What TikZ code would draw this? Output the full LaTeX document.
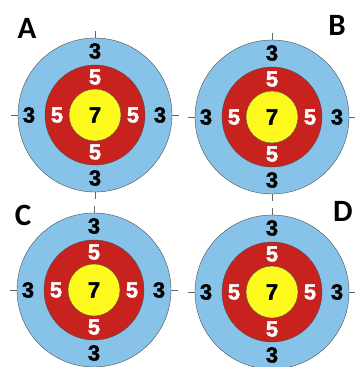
\documentclass[tikz,border=0pt]{standalone}
\usepackage{fontspec}
\setmainfont{Liberation Sans}
\newfontfamily\labelfont{Carlito}
\newfontfamily\scorefont[FakeBold=1.8]{Liberation Sans Bold}
\definecolor{ringblue}{RGB}{135,195,232}
\definecolor{ringred}{RGB}{200,34,30}
\definecolor{ringyellow}{RGB}{255,250,30}
\tikzset{
  outerring/.style={
    draw=black!70,
    fill=ringblue,
    thin
    },
  midring/.style={
    draw=black!70,
    fill=ringred,
    thin
    },
  innerring/.style={
    draw=black!70,
    fill=ringyellow,
    thin
    },
  tick/.style={draw=black!60, thin},
  score/.style={font=\scorefont\fontsize{22}{22}\selectfont, inner sep=0pt},
  letter/.style={font=\labelfont\fontsize{31}{31}\selectfont\bfseries, inner sep=0pt},
}

\begin{document}
\begin{tikzpicture}[
            x = 1pt, y = -1pt % image coordinates
        ]
        \useasboundingbox (0,0) rectangle (354,367);

        % four targets: centre x, centre y, name
        \foreach \cx/\cy/\tn in {95/115/A, 272/117/B, 94/290/C, 272/292/D} {
            \coordinate (\tn-c) at (\cx,\cy);
            % tick marks
            \foreach \ang in {0,90,180,270}
                \draw[tick] (\tn-c) ++(\ang:74) -- ++(\ang:10);
            \draw[outerring] (\tn-c) circle (77);
            \draw[midring] (\tn-c) circle (50);
            \draw[innerring] (\tn-c) circle (26);
            % scores
            \node[score] (\tn-7) at (\tn-c) {7};
            \node[score, white] (\tn-5t) at ([yshift=-37]\tn-c) {5};
            \node[score, white] (\tn-5b) at ([yshift=38]\tn-c) {5};
            \node[score, white] (\tn-5l) at ([xshift=-38]\tn-c) {5};
            \node[score, white] (\tn-5r) at ([xshift=38]\tn-c) {5};
            \node[score] (\tn-3t) at ([yshift=-63]\tn-c) {3};
            \node[score] (\tn-3b) at ([yshift=64]\tn-c) {3};
            \node[score] (\tn-3l) at ([xshift=-66]\tn-c) {3};
            \node[score] (\tn-3r) at ([xshift=65]\tn-c) {3};
        }

        % panel letters
        \node[letter] (la) at (27,28) {A};
        \node[letter] (lb) at (337,25) {B};
        \node[letter] (lc) at (23,215) {C};
        \node[letter] (ld) at (343,211) {D};
  \end{tikzpicture}
\end{document}
